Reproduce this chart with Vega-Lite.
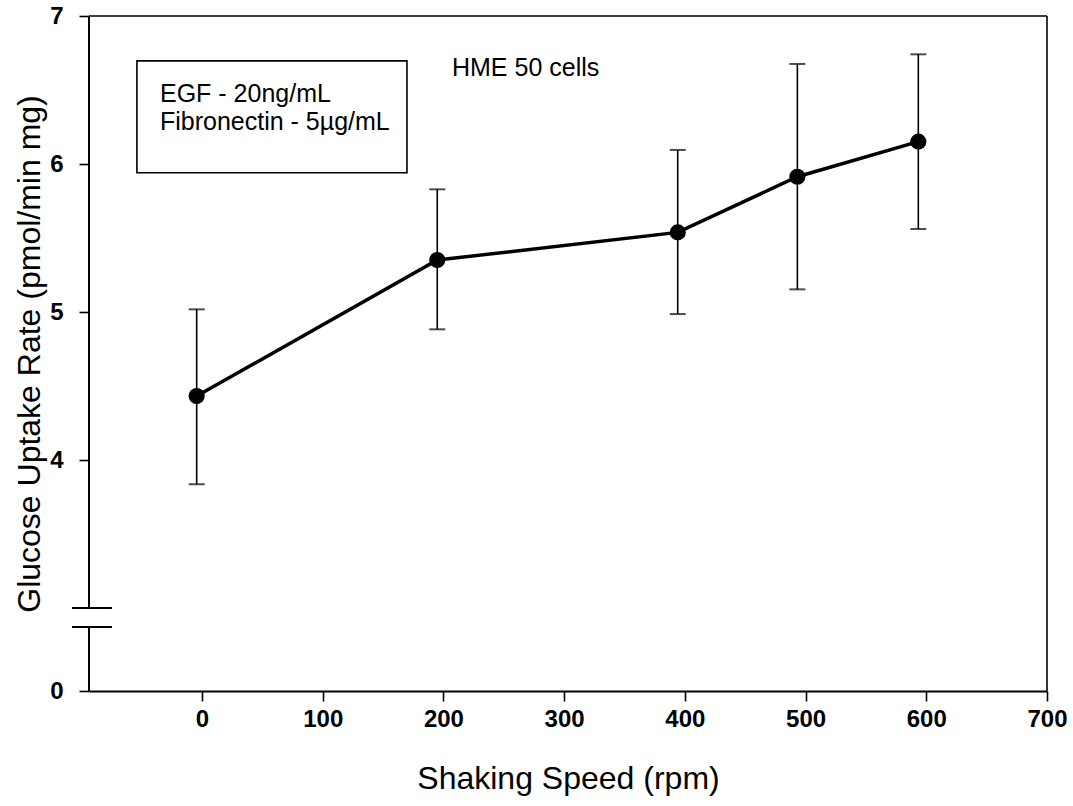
{
  "$schema": "https://vega.github.io/schema/vega-lite/v6.json",
  "width": 958,
  "height": 675,
  "autosize": {"type": "none"},
  "padding": {"left": 89, "top": 16, "right": 26, "bottom": 115},
  "background": "white",
  "config": {"view": {"stroke": null}, "font": "Liberation Sans"},
  "datasets": {
    "pts": [
      {"rpm": -4.4, "rate": 4.432, "lo": 3.836, "hi": 5.018},
      {"rpm": 194.9, "rate": 5.351, "lo": 4.883, "hi": 5.829},
      {"rpm": 394.1, "rate": 5.538, "lo": 4.986, "hi": 6.095},
      {"rpm": 493.2, "rate": 5.914, "lo": 5.153, "hi": 6.676},
      {"rpm": 593.4, "rate": 6.151, "lo": 5.561, "hi": 6.741}
    ],
    "one": [{}]
  },
  "layer": [
    {
      "data": {"name": "pts"},
      "mark": {"type": "line", "color": "black", "strokeWidth": 3.5},
      "encoding": {
        "x": {
          "field": "rpm", "type": "quantitative",
          "scale": {"domain": [-93.6, 700], "nice": false, "zero": false},
          "axis": {
            "title": "Shaking Speed (rpm)",
            "values": [0, 100, 200, 300, 400, 500, 600, 700],
            "format": "d",
            "grid": false,
            "domainColor": "black", "domainWidth": 2,
            "tickColor": "black", "tickWidth": 1.6, "tickSize": 10,
            "labelFontSize": 24, "labelFontWeight": "bold", "labelColor": "black",
            "labelPadding": 6, "labelFlush": false,
            "titleFontSize": 32, "titleFontWeight": "normal", "titleColor": "black",
            "titlePadding": 32
          }
        },
        "y": {
          "field": "rate", "type": "quantitative",
          "scale": {"domain": [0, 3, 7], "range": [675, 592, 0], "nice": false, "zero": false},
          "axis": {
            "title": "Glucose Uptake Rate (pmol/min mg)",
            "values": [0, 4, 5, 6, 7],
            "format": "d",
            "grid": false,
            "domain": false,
            "tickColor": "black", "tickWidth": 1.6, "tickSize": 10,
            "labelFontSize": 24, "labelFontWeight": "bold", "labelColor": "black",
            "labelPadding": 16, "labelFlush": false,
            "titleFontSize": 32, "titleFontWeight": "normal", "titleColor": "black",
            "titlePadding": 3
          }
        }
      }
    },
    {
      "data": {"name": "pts"},
      "mark": {"type": "rule", "color": "black", "strokeWidth": 1.6},
      "encoding": {
        "x": {"field": "rpm", "type": "quantitative"},
        "y": {"field": "lo", "type": "quantitative"},
        "y2": {"field": "hi"}
      }
    },
    {
      "data": {"name": "pts"},
      "mark": {"type": "tick", "color": "black", "orient": "horizontal", "size": 16, "thickness": 2},
      "encoding": {
        "x": {"field": "rpm", "type": "quantitative"},
        "y": {"field": "lo", "type": "quantitative"}
      }
    },
    {
      "data": {"name": "pts"},
      "mark": {"type": "tick", "color": "black", "orient": "horizontal", "size": 16, "thickness": 2},
      "encoding": {
        "x": {"field": "rpm", "type": "quantitative"},
        "y": {"field": "hi", "type": "quantitative"}
      }
    },
    {
      "data": {"name": "pts"},
      "mark": {"type": "point", "filled": true, "color": "black", "opacity": 1, "size": 260, "shape": "circle"},
      "encoding": {
        "x": {"field": "rpm", "type": "quantitative"},
        "y": {"field": "rate", "type": "quantitative"}
      }
    },
    {
      "data": {"name": "one"},
      "mark": {"type": "rule", "color": "black", "strokeWidth": 2},
      "encoding": {
        "x": {"datum": -93.6, "type": "quantitative"},
        "y": {"datum": 3, "type": "quantitative"},
        "y2": {"datum": 7}
      }
    },
    {
      "data": {"name": "one"},
      "mark": {"type": "rule", "color": "black", "strokeWidth": 2},
      "encoding": {
        "x": {"datum": -93.6, "type": "quantitative"},
        "y": {"datum": 0, "type": "quantitative"},
        "y2": {"datum": 2.313}
      }
    },
    {
      "data": {"name": "one"},
      "mark": {"type": "rule", "color": "black", "strokeWidth": 2},
      "encoding": {
        "x": {"datum": -107.7, "type": "quantitative"},
        "x2": {"datum": -74.6},
        "y": {"datum": 3, "type": "quantitative"}
      }
    },
    {
      "data": {"name": "one"},
      "mark": {"type": "rule", "color": "black", "strokeWidth": 2},
      "encoding": {
        "x": {"datum": -107.7, "type": "quantitative"},
        "x2": {"datum": -74.6},
        "y": {"datum": 2.313, "type": "quantitative"}
      }
    },
    {
      "data": {"name": "one"},
      "mark": {"type": "rule", "color": "black", "strokeWidth": 1.6},
      "encoding": {
        "x": {"datum": -93.6, "type": "quantitative"},
        "x2": {"datum": 700},
        "y": {"datum": 7, "type": "quantitative"}
      }
    },
    {
      "data": {"name": "one"},
      "mark": {"type": "rule", "color": "black", "strokeWidth": 1.6},
      "encoding": {
        "x": {"datum": 700, "type": "quantitative"},
        "y": {"datum": 0, "type": "quantitative"},
        "y2": {"datum": 7}
      }
    },
    {
      "data": {"name": "one"},
      "mark": {"type": "rect", "fill": "white", "fillOpacity": 0, "stroke": "black", "strokeWidth": 1.6},
      "encoding": {
        "x": {"datum": -53.9, "type": "quantitative"},
        "x2": {"datum": 169.8},
        "y": {"datum": 6.697, "type": "quantitative"},
        "y2": {"datum": 5.941}
      }
    },
    {
      "data": {"name": "one"},
      "mark": {"type": "text", "text": "EGF - 20ng/mL", "align": "left", "baseline": "alphabetic", "fontSize": 25, "color": "black", "font": "Liberation Sans"},
      "encoding": {
        "x": {"datum": -34.8, "type": "quantitative"},
        "y": {"datum": 6.42, "type": "quantitative"}
      }
    },
    {
      "data": {"name": "one"},
      "mark": {"type": "text", "text": "Fibronectin - 5µg/mL", "align": "left", "baseline": "alphabetic", "fontSize": 25, "color": "black", "font": "Liberation Sans"},
      "encoding": {
        "x": {"datum": -34.8, "type": "quantitative"},
        "y": {"datum": 6.231, "type": "quantitative"}
      }
    },
    {
      "data": {"name": "one"},
      "mark": {"type": "text", "text": "HME 50 cells", "align": "left", "baseline": "alphabetic", "fontSize": 25, "color": "black", "font": "Liberation Sans"},
      "encoding": {
        "x": {"datum": 207.1, "type": "quantitative"},
        "y": {"datum": 6.595, "type": "quantitative"}
      }
    }
  ]
}
